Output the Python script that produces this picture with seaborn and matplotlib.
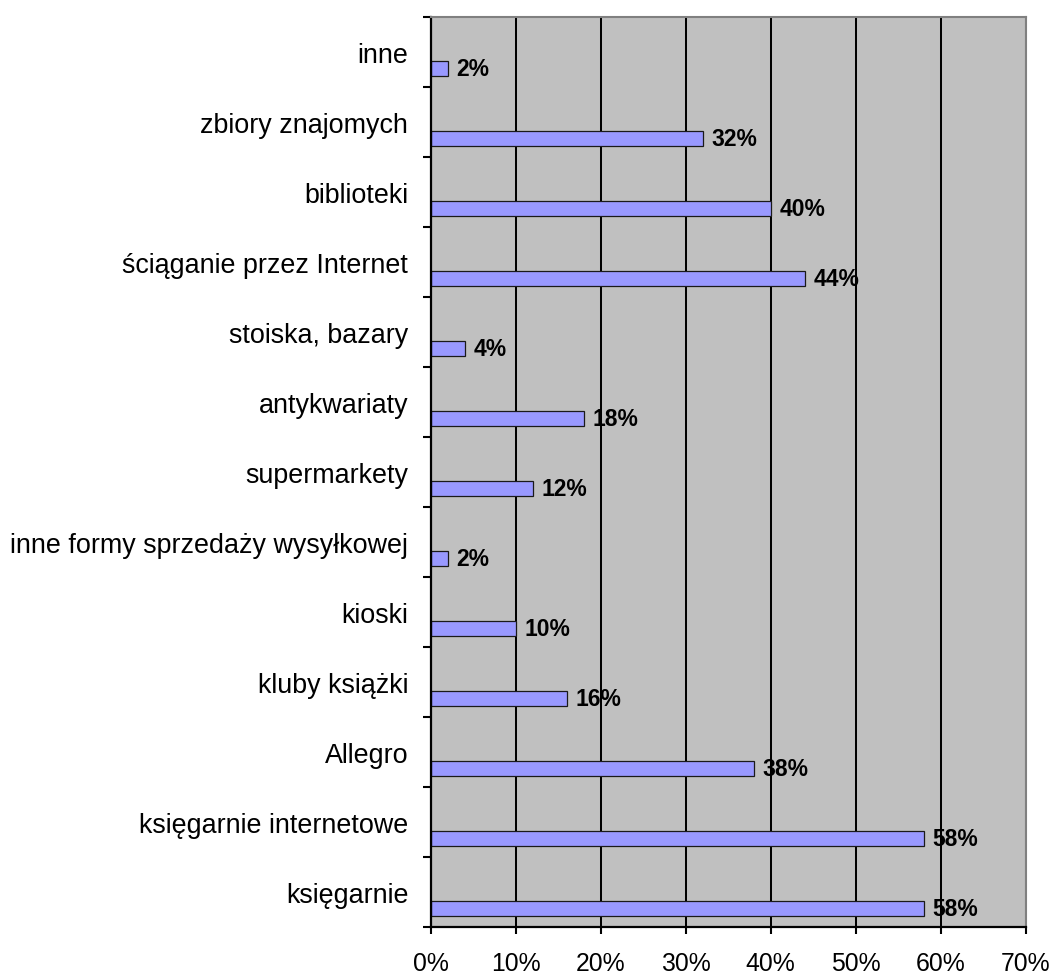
import numpy as np
import pandas as pd
import matplotlib
matplotlib.use("Agg")
import matplotlib.pyplot as plt
import seaborn as sns

# categories listed top -> bottom as in the chart
categories = [
    "inne",
    "zbiory znajomych",
    "biblioteki",
    "ściąganie przez Internet",
    "stoiska, bazary",
    "antykwariaty",
    "supermarkety",
    "inne formy sprzedaży wysyłkowej",
    "kioski",
    "kluby książki",
    "Allegro",
    "księgarnie internetowe",
    "księgarnie",
]
shares = [2, 32, 40, 44, 4, 18, 12, 2, 10, 16, 38, 58, 58]
x_ticks = [0, 10, 20, 30, 40, 50, 60, 70]


def make_frame():
    df = pd.DataFrame({"source": categories, "share": shares})
    df["source"] = pd.Categorical(df["source"], categories=categories, ordered=True)
    return df


if __name__ == "__main__":
    sns.set_theme(style="white")
    plt.rcParams["font.family"] = ["Liberation Sans", "DejaVu Sans"]

    df = make_frame()

    fig = plt.figure(figsize=(10.5, 9.78), dpi=100)
    ax = fig.add_axes([0.41, 0.0511, 0.5667, 0.9305])
    ax.set_facecolor("#C0C0C0")

    sns.barplot(x="share", y="source", data=df, ax=ax, orient="h",
                color="#9999FF", saturation=1, width=0.214,
                edgecolor="#1a1a1a", linewidth=0.9)

    # excel puts the bar in the lower part of each category band
    for p in ax.patches:
        p.set_y(p.get_y() + 0.23)

    ax.bar_label(ax.containers[0], fmt="%d%%", padding=6.5,
                 fontsize=16.5, fontweight="bold", color="black")

    ax.set_xlim(0, 70)
    ax.set_ylim(len(categories) - 0.5, -0.5)
    ax.set_xticks(x_ticks)
    ax.set_xticklabels([f"{v}%" for v in x_ticks])
    ax.set_xlabel("")
    ax.set_ylabel("")

    ax.set_axisbelow(True)
    ax.xaxis.grid(True, color="black", linewidth=1.45)
    ax.yaxis.grid(False)

    ax.set_yticks(np.arange(-0.5, len(categories), 1.0), minor=True)
    ax.tick_params(axis="y", which="major", length=0, pad=16, labelsize=19.4, colors="black")
    ax.tick_params(axis="y", which="minor", left=True, length=5.8, width=1.5, color="black")
    ax.tick_params(axis="x", which="major", bottom=True, length=5, width=1.5,
                   color="black", pad=12.5, labelsize=17.8, labelcolor="black")

    for side in ["left", "bottom"]:
        ax.spines[side].set_color("black")
        ax.spines[side].set_linewidth(1.6)
    for side in ["top", "right"]:
        ax.spines[side].set_color("#808080")
        ax.spines[side].set_linewidth(1.5)
        ax.spines[side].set_visible(True)

    plt.savefig("out.png", dpi=100)
    plt.close(fig)
